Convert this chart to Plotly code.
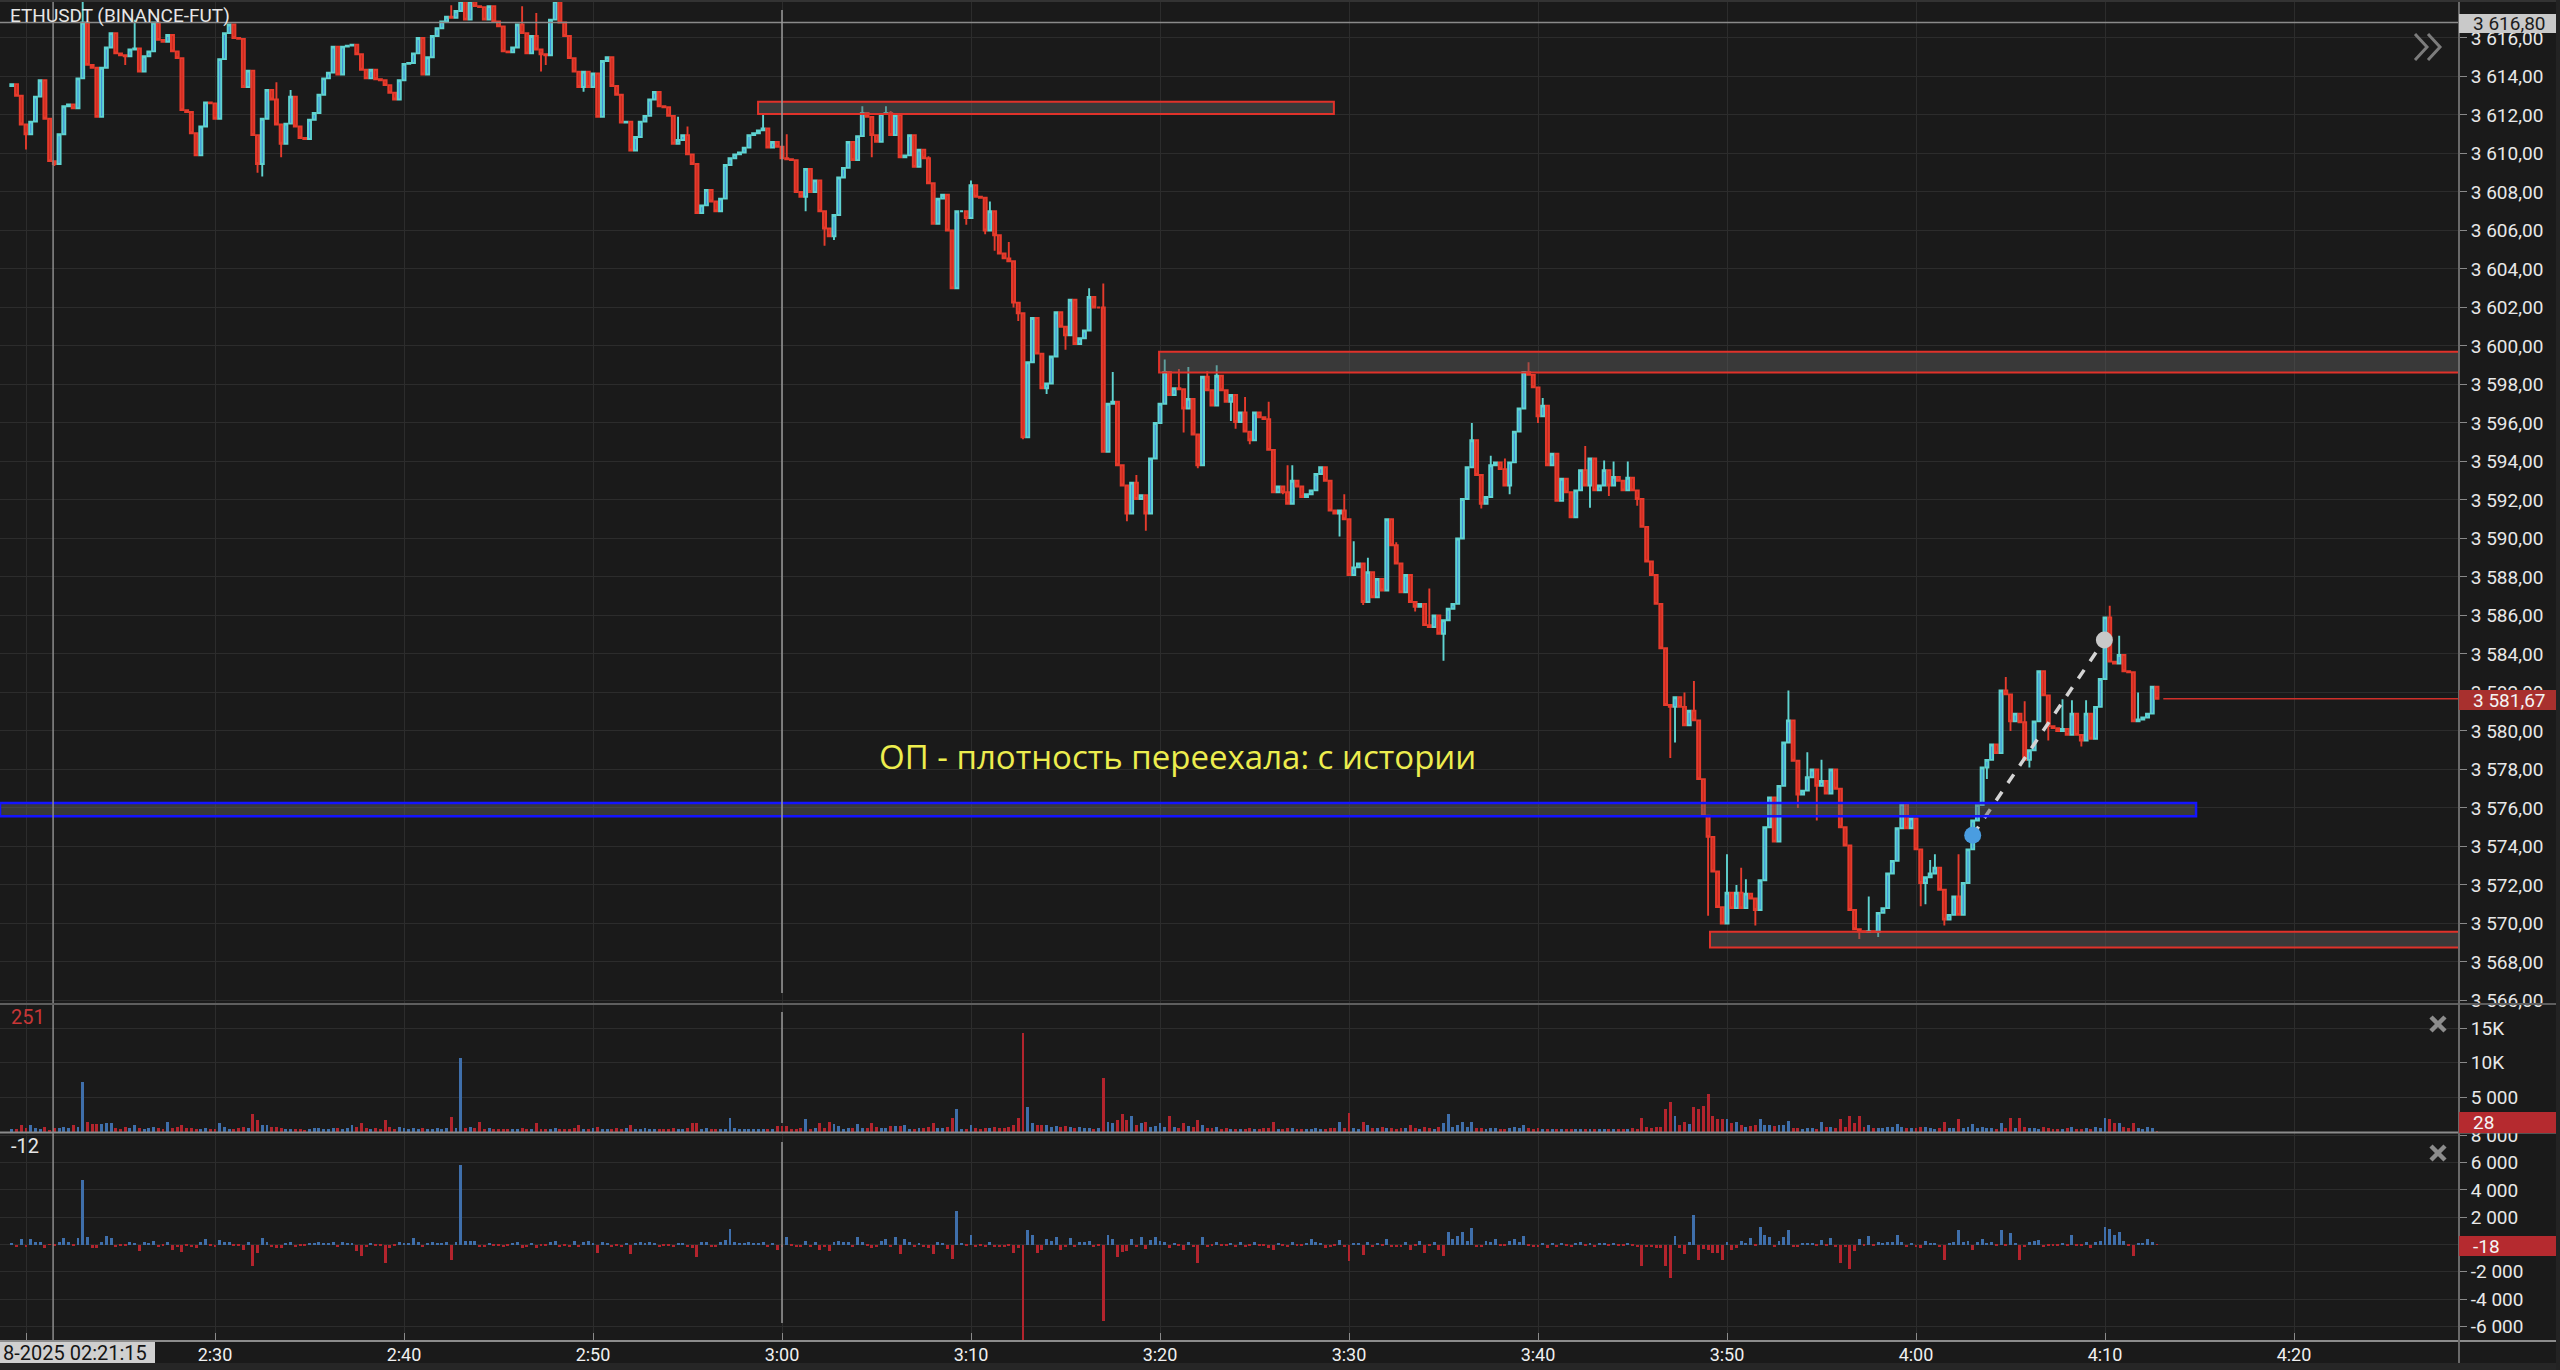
import plotly.graph_objects as go
import pandas as pd

# ------------------------------------------------------------------ data
start_time = "2025-08-05 02:19:15"
bar_seconds = 15
first_open = 3613.5

closes = [
    3613.6, 3613.0, 3611.5, 3611.0, 3611.65, 3612.95, 3613.8, 3611.8, 3609.6, 3609.45,
    3611.0, 3612.45, 3612.55, 3612.35, 3613.9, 3616.8, 3614.6, 3614.45, 3611.9, 3614.45,
    3615.5, 3616.25, 3615.2, 3615.1, 3615.05, 3615.4, 3615.45, 3614.25, 3615.05, 3615.3,
    3616.8, 3615.9, 3615.8, 3616.15, 3615.3, 3614.95, 3612.25, 3612.15, 3611.05, 3609.9,
    3611.4, 3612.65, 3612.6, 3611.8, 3614.9, 3616.25, 3616.7, 3616.0, 3615.95, 3613.45,
    3614.3, 3610.95, 3609.45, 3611.8, 3613.3, 3612.8, 3611.5, 3610.5, 3611.55, 3612.95,
    3611.4, 3610.8, 3610.75, 3611.75, 3612.1, 3613.05, 3613.9, 3614.2, 3615.55, 3614.1,
    3615.55, 3615.6, 3615.65, 3615.15, 3614.35, 3613.9, 3614.35, 3613.85, 3613.8, 3613.55,
    3613.15, 3612.8, 3613.8, 3614.65, 3614.7, 3615.2, 3616.0, 3614.1, 3615.0, 3616.1,
    3616.5, 3616.85, 3617.1, 3617.05, 3617.4, 3617.9, 3616.95, 3617.9, 3617.65, 3617.6,
    3616.95, 3617.65, 3616.85, 3616.6, 3615.3, 3615.25, 3615.5, 3616.7, 3616.25, 3615.2,
    3616.1, 3615.4, 3615.15, 3615.1, 3616.95, 3617.9, 3616.8, 3616.1, 3614.95, 3614.25,
    3613.45, 3614.25, 3613.45, 3614.15, 3611.9, 3614.8, 3615.0, 3613.5, 3613.05, 3611.6,
    3611.65, 3610.15, 3610.85, 3611.65, 3611.95, 3612.8, 3613.2, 3612.45, 3612.4, 3611.95,
    3610.5, 3610.7, 3610.95, 3609.95, 3609.45, 3606.9, 3607.3, 3608.1, 3607.5, 3607.0,
    3607.65, 3609.4, 3609.75, 3609.95, 3610.05, 3610.3, 3610.95, 3611.05, 3611.2, 3611.3,
    3610.3, 3610.6, 3610.35, 3609.75, 3609.7, 3609.65, 3608.0, 3607.75, 3609.2, 3608.0,
    3608.6, 3607.0, 3606.1, 3605.7, 3606.8, 3608.75, 3609.25, 3610.6, 3609.65, 3610.9,
    3612.1, 3611.9, 3610.95, 3610.6, 3612.05, 3612.1, 3610.95, 3612.0, 3609.8, 3609.9,
    3610.95, 3609.3, 3610.2, 3609.75, 3608.45, 3606.35, 3607.65, 3607.85, 3606.0, 3603.0,
    3607.0, 3607.0, 3606.65, 3608.35, 3607.75, 3607.7, 3606.0, 3607.0, 3605.75, 3604.8,
    3604.55, 3604.4, 3602.25, 3601.7, 3595.25, 3599.15, 3601.45, 3599.6, 3597.8, 3598.05,
    3599.45, 3601.75, 3601.0, 3600.55, 3602.4, 3600.1, 3600.4, 3600.8, 3602.55, 3602.0,
    3602.0, 3594.5, 3597.0, 3597.1, 3593.8, 3592.75, 3591.3, 3592.9, 3592.05, 3592.25,
    3591.3, 3594.15, 3596.0, 3597.0, 3598.65, 3597.45, 3597.8, 3597.75, 3596.75, 3597.25,
    3595.4, 3593.8, 3598.4, 3597.7, 3596.9, 3598.45, 3597.7, 3597.1, 3597.45, 3596.05,
    3596.55, 3595.55, 3595.1, 3596.55, 3596.3, 3596.2, 3594.6, 3592.4, 3592.7, 3592.4,
    3591.8, 3593.0, 3592.7, 3592.15, 3592.3, 3592.5, 3593.35, 3593.7, 3593.0, 3591.45,
    3591.3, 3591.45, 3591.0, 3588.1, 3588.5, 3588.7, 3586.7, 3588.25, 3586.95, 3587.9,
    3587.3, 3591.0, 3589.65, 3588.7, 3587.2, 3588.1, 3586.7, 3586.45, 3586.6, 3585.5,
    3585.4, 3586.0, 3585.05, 3585.75, 3586.35, 3586.6, 3590.0, 3592.05, 3593.7, 3595.1,
    3593.3, 3591.8, 3592.15, 3593.8, 3593.95, 3593.6, 3592.75, 3593.95, 3595.55, 3596.75,
    3598.65, 3598.5, 3597.85, 3596.35, 3596.9, 3593.8, 3594.4, 3591.95, 3593.1, 3592.4,
    3591.1, 3592.5, 3593.55, 3592.75, 3594.15, 3592.5, 3592.75, 3593.55, 3592.75, 3593.2,
    3593.0, 3592.5, 3593.15, 3592.5, 3592.05, 3590.6, 3588.8, 3588.1, 3586.6, 3584.3,
    3581.35, 3581.25, 3581.75, 3581.25, 3580.3, 3581.05, 3580.55, 3577.5, 3575.6, 3574.5,
    3572.7, 3570.85, 3570.0, 3571.6, 3570.8, 3571.6, 3570.8, 3571.55, 3571.3, 3570.7,
    3572.25, 3575.0, 3576.55, 3574.25, 3577.15, 3579.4, 3580.55, 3578.45, 3576.7, 3576.9,
    3577.6, 3578.0, 3577.15, 3577.4, 3576.75, 3578.0, 3577.0, 3575.0, 3574.05, 3570.7,
    3569.7, 3569.6, 3569.55, 3569.6, 3569.55, 3570.55, 3570.8, 3572.6, 3573.25, 3574.95,
    3576.2, 3574.95, 3575.45, 3573.85, 3572.1, 3572.4, 3572.6, 3572.9, 3571.75, 3570.2,
    3570.45, 3571.4, 3570.45, 3572.1, 3573.85, 3575.35, 3576.15, 3578.1, 3578.5, 3579.3,
    3578.85, 3582.1, 3581.9, 3580.5, 3580.9, 3580.45, 3578.5, 3579.0, 3580.5, 3583.1,
    3581.85, 3580.25, 3580.15, 3580.0, 3580.1, 3579.8, 3580.9, 3579.8, 3579.5, 3580.9,
    3579.6, 3581.25, 3582.7, 3585.9, 3583.6, 3583.5, 3583.95, 3583.1, 3583.05, 3580.5,
    3580.6, 3580.7, 3580.9, 3582.3, 3581.67,
]

wick_high = {
    15: 3618.3, 26: 3616.95, 56: 3613.7, 59: 3613.3, 93: 3617.7, 108: 3617.65, 111: 3617.3,
    141: 3611.9, 143: 3611.4, 159: 3612.1, 164: 3611.0, 180: 3612.45, 185: 3612.45,
    186: 3612.2, 194: 3609.85, 203: 3608.6, 205: 3607.8, 207: 3607.5, 209: 3605.7,
    211: 3605.4, 228: 3603.0, 231: 3603.25, 233: 3598.65, 238: 3593.3, 244: 3599.3,
    247: 3598.8, 249: 3598.9, 253: 3598.7, 255: 3599.0, 256: 3598.4, 261: 3597.35,
    266: 3597.1, 270: 3593.8, 271: 3593.8, 278: 3593.7, 282: 3592.3, 284: 3589.85,
    287: 3589.0, 292: 3590.95, 293: 3589.8, 294: 3588.45, 300: 3587.4, 309: 3596.0,
    313: 3594.3, 316: 3594.15, 321: 3599.15, 324: 3597.3, 333: 3594.8, 337: 3594.05,
    339: 3594.0, 342: 3594.0, 354: 3582.0, 356: 3582.6, 363: 3573.6, 365: 3572.0,
    366: 3572.9, 367: 3572.3, 376: 3582.1, 380: 3578.9, 383: 3578.5, 393: 3571.4,
    406: 3573.3, 407: 3573.6, 412: 3573.6, 422: 3582.8, 426: 3581.55, 434: 3581.65,
    436: 3581.6, 439: 3581.6, 444: 3586.5, 446: 3584.95, 450: 3582.0,
}
wick_low = {
    3: 3610.2, 9: 3609.35, 24: 3614.6, 52: 3609.0, 53: 3608.8, 57: 3609.8, 112: 3614.25,
    113: 3614.6, 121: 3613.2, 168: 3607.0, 172: 3605.2, 174: 3605.5, 182: 3609.8,
    196: 3606.9, 202: 3606.3, 206: 3605.8, 208: 3604.95, 212: 3602.0, 213: 3601.3,
    214: 3595.15, 219: 3597.5, 223: 3599.8, 236: 3590.9, 240: 3590.4, 248: 3595.5,
    251: 3593.65, 258: 3596.1, 259: 3595.7, 262: 3594.9, 269: 3592.3, 281: 3590.1,
    286: 3586.55, 297: 3586.2, 303: 3583.65, 311: 3591.55, 317: 3592.3, 323: 3596.0,
    334: 3591.6, 338: 3592.2, 344: 3591.7, 351: 3578.6, 352: 3579.4, 359: 3570.4,
    369: 3569.9, 378: 3576.0, 382: 3575.35, 391: 3569.2, 395: 3569.3, 404: 3570.9,
    405: 3571.0, 409: 3569.9, 418: 3577.5, 423: 3580.0, 427: 3578.1, 431: 3579.5,
    438: 3579.2,
}

volume = [
    400, 350, 970, 450, 970, 500, 400, 600, 251, 450,
    500, 700, 450, 970, 600, 7250, 1450, 1060, 1060, 1060,
    1200, 1200, 500, 400, 600, 450, 970, 500, 400, 450,
    600, 450, 400, 1450, 500, 600, 1000, 450, 500, 400,
    350, 450, 400, 300, 1200, 600, 400, 350, 500, 600,
    500, 2500, 1700, 970, 970, 600, 700, 500, 350, 300,
    350, 300, 250, 300, 450, 450, 400, 350, 450, 500,
    400, 450, 970, 600, 1200, 500, 300, 450, 400, 1700,
    600, 300, 700, 450, 350, 500, 400, 450, 300, 400,
    450, 400, 500, 2175, 450, 10700, 500, 700, 450, 1450,
    300, 450, 400, 300, 350, 300, 350, 400, 450, 300,
    350, 1200, 400, 300, 350, 450, 400, 300, 350, 450,
    970, 400, 350, 450, 600, 400, 350, 300, 450, 400,
    500, 970, 350, 300, 450, 400, 350, 300, 400, 350,
    450, 400, 350, 500, 1200, 1200, 400, 450, 350, 300,
    350, 400, 2030, 500, 350, 300, 350, 300, 350, 400,
    350, 300, 770, 770, 770, 400, 350, 450, 1790, 400,
    500, 1200, 450, 1450, 1060, 870, 400, 500, 450, 1060,
    500, 450, 1200, 600, 450, 500, 770, 770, 770, 970,
    400, 350, 450, 500, 600, 1200, 450, 500, 600, 2030,
    3290, 400, 350, 970, 450, 400, 500, 450, 600, 500,
    500, 600, 970, 1930, 14300, 3530, 1200, 970, 970, 970,
    600, 770, 700, 800, 600, 500, 600, 450, 500, 400,
    450, 7730, 1450, 1200, 1740, 2510, 1740, 2220, 900, 1200,
    1450, 700, 800, 1200, 600, 2220, 700, 500, 1200, 800,
    600, 1740, 970, 500, 450, 600, 400, 450, 350, 400,
    350, 400, 450, 350, 300, 450, 500, 1450, 400, 350,
    450, 500, 400, 350, 300, 400, 450, 350, 400, 500,
    450, 1450, 500, 2750, 450, 400, 1450, 970, 500, 450,
    600, 500, 450, 400, 500, 450, 970, 500, 400, 600,
    450, 400, 720, 1200, 2510, 600, 900, 1450, 600, 1450,
    500, 450, 400, 500, 450, 400, 350, 450, 720, 500,
    970, 450, 400, 450, 350, 300, 400, 350, 300, 400,
    350, 300, 400, 350, 300, 350, 400, 300, 350, 400,
    300, 350, 400, 450, 400, 2030, 600, 500, 700, 600,
    3290, 4250, 2270, 900, 1450, 1060, 3530, 3290, 3770, 5460,
    2270, 1790, 1790, 1790, 1200, 1450, 970, 720, 870, 970,
    1790, 900, 900, 870, 900, 970, 1550, 500, 450, 400,
    450, 500, 400, 1450, 600, 720, 500, 1790, 600, 2270,
    1200, 2270, 600, 970, 500, 450, 500, 600, 700, 1060,
    600, 500, 450, 500, 720, 720, 450, 400, 500, 1450,
    500, 450, 1790, 450, 600, 1060, 500, 720, 450, 500,
    400, 1200, 500, 2030, 450, 2030, 600, 500, 450, 400,
    720, 500, 400, 350, 400, 450, 720, 400, 350, 500,
    400, 600, 500, 2030, 1790, 1300, 1300, 700, 500, 1200,
    450, 400, 720, 500, 28,
]

delta = [
    120, -150, 370, -200, 370, 200, 150, -290, -12, -100,
    200, 490, 150, -100, 490, 4700, 540, -240, -240, 200,
    610, 490, -150, -100, -120, 150, 100, -490, 150, 120,
    250, -150, -100, 150, -370, -150, -540, -100, -200, -250,
    200, 440, -100, -150, 300, 200, 150, -120, -100, -370,
    150, -1590, -610, 490, 200, -150, -290, -290, 120, 150,
    -150, -120, -80, 120, 100, 150, 120, 100, 200, -150,
    150, 100, 120, -490, -850, -150, 100, -120, -80, -1340,
    -290, -100, 150, 120, 80, 490, 150, -200, 120, 150,
    120, 100, 150, -1100, 150, 5860, 240, 290, 240, -200,
    -150, 120, -120, -100, -200, -80, 100, 150, -290, -150,
    120, -290, -100, -80, 200, 250, -150, -120, -150, 290,
    -200, 150, 290, 120, -610, 200, 100, -150, -120, -200,
    80, -730, 120, 150, 100, 150, 120, -150, -80, -100,
    -200, 100, 120, -150, -240, -930, 150, 200, -150, -200,
    150, 300, 1150, 150, 100, 120, 150, 100, 120, 150,
    -150, 120, -370, -150, 540, -100, -200, -150, 290, -150,
    150, -370, -200, -440, 200, 250, 150, 200, -150, 540,
    200, -100, -290, -150, 240, 440, -200, 540, -730, 370,
    150, -200, 120, -150, -250, -730, 200, 120, -300, -1050,
    2440, 80, -120, 680, -150, -80, -200, 150, -200, -150,
    -150, -100, -610, -240, -11000, 1050, 730, -610, -370, 440,
    240, 540, -370, -150, 490, -200, 150, 200, 240, -150,
    -100, -5620, 660, 370, -930, -540, -440, 440, -200, 540,
    -300, 300, 540, 250, 200, -240, 120, -100, -370, 150,
    -200, -1340, 540, -150, -120, 150, -100, -120, 100, -200,
    150, -150, -120, 200, -80, -60, -250, -370, 120, -100,
    -150, 200, -100, -120, 80, 370, 150, 120, -290, -200,
    -100, 300, -150, -1220, 120, 100, -800, 200, -150, 120,
    -120, 370, -200, -150, -200, 150, -370, -100, 290, -610,
    -100, 150, -370, -850, 900, 370, 610, 930, 240, 1220,
    -200, -150, 240, 150, 370, -100, -120, 240, 370, 150,
    610, -100, -150, -200, 120, -250, 100, -200, 120, -100,
    -150, 120, 150, -100, 120, -150, 80, 100, -120, 80,
    -80, -120, 100, -100, -150, -1590, -200, -150, -290, -250,
    -1590, -2440, 600, -290, -730, 200, 2150, -1100, -300, -370,
    -610, -610, -1100, 200, -370, -240, 240, 120, 490, -100,
    1270, 730, 540, -150, 240, 540, 1050, -200, -150, 100,
    120, 100, -100, 300, -100, 490, -150, -1340, -200, -1830,
    -440, 440, -100, 610, -80, 150, 120, 200, 150, 660,
    200, -150, 100, -200, -240, 240, 100, 120, -150, -1100,
    100, 150, 1050, 200, 250, -370, 150, 440, 120, 150,
    -120, 1050, -100, 850, 120, -1100, -200, 150, 240, 300,
    -150, -120, -80, -100, 80, -100, 660, -120, -100, 150,
    -240, 200, 250, 1300, 1150, 660, 930, 290, -100, -850,
    120, 100, 420, 200, -18,
]

price_tick_values = list(range(3566, 3618, 2))
volume_tick_values = [5000, 10000, 15000]
volume_tick_text = ["5 000", "10K", "15K"]
delta_tick_values = [-6000, -4000, -2000, 0, 2000, 4000, 6000, 8000]
delta_tick_text = ["-6 000", "-4 000", "-2 000", "", "2 000", "4 000", "6 000", "8 000"]

symbol_title = "ETHUSDT (BINANCE-FUT)"
last_price = 3581.67
crosshair_price = 3616.80
crosshair_time = "2025-08-05 02:21:26"
crosshair_label = "8-2025 02:21:15"
hover_volume_label = "251"
hover_delta_label = "-12"
last_volume_label = "28"
last_delta_label = "-18"
session_line_time = "2025-08-05 03:00:00"

# drawn levels: (start, end or None = right edge, low, high)
red_zones = [
    ("2025-08-05 02:58:44", "2025-08-05 03:29:12", 3612.05, 3612.68),
    ("2025-08-05 03:19:57", None, 3598.62, 3599.70),
    ("2025-08-05 03:49:06", None, 3568.75, 3569.57),
]
blue_zone = (None, "2025-08-05 04:14:49", 3575.57, 3576.26)
trend_points_time = ["2025-08-05 04:03:00", "2025-08-05 04:09:58"]
trend_points_price = [3574.58, 3584.73]
note_text = "ОП - плотность переехала: с истории"
note_time = "2025-08-05 03:20:56"
note_price = 3578.7
last_line_start = "2025-08-05 04:13:05"

# ------------------------------------------------------------------ derived
n = min(len(closes), len(volume), len(delta))
closes = closes[:n]
volume = volume[:n]
delta = delta[:n]
times = pd.date_range(start_time, periods=n, freq=f"{bar_seconds}s")
opens = [first_open] + closes[:-1]
highs = [max(o, c) for o, c in zip(opens, closes)]
lows = [min(o, c) for o, c in zip(opens, closes)]
for k, v in wick_high.items():
    if k < n:
        highs[k] = max(highs[k], v)
for k, v in wick_low.items():
    if k < n:
        lows[k] = min(lows[k], v)

# ------------------------------------------------------------------ geometry (pixels)
W, H = 2560, 1370
PW, PH = 2459, 1342          # plot area (right axis strip 101px, time strip 28px)
PX_PER_MIN = 18.9
X_AT_3 = 782
t3 = pd.Timestamp("2025-08-05 03:00:00")
x_left = t3 - pd.Timedelta(minutes=X_AT_3 / PX_PER_MIN)
x_right = t3 + pd.Timedelta(minutes=(PW - X_AT_3) / PX_PER_MIN)


def pxp(x):
    return x / PW


def pyp(y):
    return (PH - y) / PH


def fmt_price(v):
    return f"{v:,.2f}".replace(",", " ").replace(".", ",")


BG = "#1a1a1a"
GRID = "#2c2c2c"
UP_LINE, UP_FILL = "#5fd3d0", "#3f8fdc"
DN_LINE, DN_FILL = "#e53b2c", "#c8291f"
VOL_UP, VOL_DN = "#3f6fab", "#b3242d"
AXIS_FONT = 19

fig = go.Figure()

fig.add_trace(go.Candlestick(
    x=times, open=opens, high=highs, low=lows, close=closes,
    xaxis="x", yaxis="y", whiskerwidth=0,
    increasing=dict(line=dict(color=UP_LINE, width=1.9), fillcolor=UP_FILL),
    decreasing=dict(line=dict(color=DN_LINE, width=1.9), fillcolor=DN_FILL),
    hoverinfo="skip", showlegend=False,
))

vol_colors = [VOL_UP if c >= o else VOL_DN for o, c in zip(opens, closes)]
fig.add_trace(go.Bar(
    x=times, y=volume, xaxis="x2", yaxis="y2",
    width=bar_seconds * 1000 * 0.62,
    marker=dict(color=vol_colors, line=dict(width=0)), showlegend=False, hoverinfo="skip",
))
delta_colors = [VOL_UP if d >= 0 else VOL_DN for d in delta]
fig.add_trace(go.Bar(
    x=times, y=delta, xaxis="x3", yaxis="y3",
    width=bar_seconds * 1000 * 0.62,
    marker=dict(color=delta_colors, line=dict(width=0)), showlegend=False, hoverinfo="skip",
))

# trend line + anchor dots
fig.add_trace(go.Scatter(
    x=trend_points_time, y=trend_points_price, mode="lines", xaxis="x", yaxis="y",
    line=dict(color="#d4d4d4", width=3.5, dash="dash"), showlegend=False, hoverinfo="skip",
))
fig.add_trace(go.Scatter(
    x=trend_points_time, y=trend_points_price, mode="markers", xaxis="x", yaxis="y",
    marker=dict(size=17, color=["#4a9de0", "#c8c8c8"], line=dict(width=0)),
    showlegend=False, hoverinfo="skip", cliponaxis=False,
))

shapes = []

# drawn zones
for (a, b, lo, hi) in red_zones:
    shapes.append(dict(type="rect", xref="x", yref="y", x0=a, x1=b if b else x_right,
                       y0=lo, y1=hi, layer="above",
                       fillcolor="rgba(95,95,95,0.45)", line=dict(color="#e0322a", width=2)))
shapes.append(dict(type="rect", xref="x", yref="y",
                   x0=blue_zone[0] if blue_zone[0] else x_left, x1=blue_zone[1],
                   y0=blue_zone[2], y1=blue_zone[3], layer="above",
                   fillcolor="rgba(95,95,95,0.45)", line=dict(color="#1414ff", width=2.5)))

# last price line
shapes.append(dict(type="line", xref="x", yref="y", x0=last_line_start, x1=x_right,
                   y0=last_price, y1=last_price, layer="above",
                   line=dict(color="#d0302a", width=1.5)))

# crosshair horizontal
shapes.append(dict(type="line", xref="x domain", yref="y", x0=0, x1=1,
                   y0=crosshair_price, y1=crosshair_price, layer="above",
                   line=dict(color="#8a8a8a", width=1.5)))

# crosshair vertical + session line in each pane
for xa, ya, s0, s1 in [("x", "y", 0.01, 0.99), ("x2", "y2", 0.071, 0.945), ("x3", "y3", 0.091, 0.957)]:
    shapes.append(dict(type="line", xref=xa, yref=ya + " domain", x0=crosshair_time, x1=crosshair_time,
                       y0=0, y1=1, layer="above", line=dict(color="#8c8c8c", width=1.5)))
    shapes.append(dict(type="line", xref=xa, yref=ya + " domain", x0=session_line_time, x1=session_line_time,
                       y0=s0, y1=s1, layer="above", line=dict(color="#9a9a9a", width=1.5)))

# pane separators and axis border
shapes += [
    dict(type="line", xref="paper", yref="paper", x0=0, x1=pxp(2556), y0=pyp(1004), y1=pyp(1004),
         line=dict(color="#5e5e5e", width=2), layer="above"),
    dict(type="line", xref="paper", yref="paper", x0=0, x1=pxp(2556), y0=pyp(1132.5), y1=pyp(1132.5),
         line=dict(color="#8c8c8c", width=2), layer="above"),
    dict(type="line", xref="paper", yref="paper", x0=0, x1=pxp(2556), y0=pyp(1341), y1=pyp(1341),
         line=dict(color="#8c8c8c", width=2), layer="above"),
    dict(type="line", xref="paper", yref="paper", x0=1, x1=1, y0=1, y1=pyp(1363),
         line=dict(color="#6a6a6a", width=2), layer="above"),
    dict(type="line", xref="paper", yref="paper", x0=0, x1=pxp(2560), y0=pyp(1), y1=pyp(1),
         line=dict(color="#333333", width=2), layer="above"),
    dict(type="rect", xref="paper", yref="paper", x0=0, x1=pxp(2560), y0=pyp(1370), y1=pyp(1363),
         fillcolor="#262626", line=dict(width=0), layer="above"),
    dict(type="rect", xref="paper", yref="paper", x0=pxp(2556), x1=pxp(2560), y0=pyp(1370), y1=1,
         fillcolor="#232323", line=dict(width=0), layer="above"),
]

# value tags on the right axis
tag_rects = [(14, 33, "#c9c9c9"), (690, 710, "#a8302e"), (1112, 1133, "#b52a2f"), (1236, 1256, "#b52a2f")]
for y0, y1, col in tag_rects:
    shapes.append(dict(type="rect", xref="paper", yref="paper", x0=pxp(2459), x1=pxp(2556),
                       y0=pyp(y1), y1=pyp(y0), fillcolor=col, line=dict(width=0), layer="above"))
# time crosshair tag
shapes.append(dict(type="rect", xref="paper", yref="paper", x0=0, x1=pxp(155),
                   y0=pyp(1363), y1=pyp(1342), fillcolor="#d0d0d0", line=dict(width=0), layer="above"))


def path(points):
    return "M " + " L ".join(f"{pxp(x):.6f},{pyp(y):.6f}" for x, y in points)


# "»" scroll icon
for dx in (0, 13):
    shapes.append(dict(type="path", xref="paper", yref="paper",
                       path=path([(2415 + dx, 34), (2427 + dx, 47), (2415 + dx, 60)]),
                       line=dict(color="#7c7c7c", width=3), layer="above"))
# close icons
for cy in (1024, 1153):
    shapes.append(dict(type="line", xref="paper", yref="paper", x0=pxp(2431), x1=pxp(2445),
                       y0=pyp(cy - 7), y1=pyp(cy + 7), line=dict(color="#8c8c8c", width=4.5), layer="above"))
    shapes.append(dict(type="line", xref="paper", yref="paper", x0=pxp(2431), x1=pxp(2445),
                       y0=pyp(cy + 7), y1=pyp(cy - 7), line=dict(color="#8c8c8c", width=4.5), layer="above"))

annotations = [
    dict(text=symbol_title, xref="paper", yref="paper", x=pxp(8), y=pyp(16), xanchor="left",
         yanchor="middle", showarrow=False, font=dict(size=19, color="#e6e6e6")),
    dict(text=hover_volume_label, xref="paper", yref="paper", x=pxp(9), y=pyp(1017), xanchor="left",
         yanchor="middle", showarrow=False, font=dict(size=20, color="#c83636")),
    dict(text=hover_delta_label, xref="paper", yref="paper", x=pxp(9), y=pyp(1146), xanchor="left",
         yanchor="middle", showarrow=False, font=dict(size=20, color="#e6e6e6")),
    dict(text=note_text, xref="x", yref="y", x=note_time, y=note_price, xanchor="center",
         yanchor="middle", showarrow=False,
         font=dict(size=33, color="#eded4e", family="Open Sans, Noto Sans, sans-serif")),
    dict(text=fmt_price(crosshair_price), xref="paper", yref="paper", x=pxp(2471), y=pyp(23.5),
         xanchor="left", yanchor="middle", showarrow=False, font=dict(size=AXIS_FONT, color="#1c1c1c")),
    dict(text=fmt_price(last_price), xref="paper", yref="paper", x=pxp(2471), y=pyp(700),
         xanchor="left", yanchor="middle", showarrow=False, font=dict(size=AXIS_FONT, color="#f4f4f4")),
    dict(text=last_volume_label, xref="paper", yref="paper", x=pxp(2471), y=pyp(1122.5),
         xanchor="left", yanchor="middle", showarrow=False, font=dict(size=AXIS_FONT, color="#f4f4f4")),
    dict(text=last_delta_label, xref="paper", yref="paper", x=pxp(2471), y=pyp(1246),
         xanchor="left", yanchor="middle", showarrow=False, font=dict(size=AXIS_FONT, color="#f4f4f4")),
    dict(text=crosshair_label, xref="paper", yref="paper", x=pxp(1), y=pyp(1352.5),
         xanchor="left", yanchor="middle", showarrow=False, font=dict(size=20, color="#151515")),
]

axis_common = dict(gridcolor=GRID, gridwidth=1, zeroline=False, showline=False)
x_common = dict(axis_common, type="date", range=[x_left, x_right], dtick=600000,
                tick0="2025-08-05 02:00:00", showgrid=True)
y_common = dict(axis_common, side="right", ticks="outside", ticklen=7, tickwidth=1.2,
                tickcolor="#8a8a8a", tickfont=dict(size=AXIS_FONT, color="#e8e8e8"), showgrid=True)

fig.update_layout(
    width=W, height=H,
    margin=dict(l=0, r=W - PW, t=0, b=H - PH, autoexpand=False),
    paper_bgcolor=BG, plot_bgcolor=BG,
    font=dict(family="Roboto, Noto Sans, sans-serif", color="#e6e6e6", size=16),
    showlegend=False, hovermode=False, boxgap=0.08, bargap=0,
    xaxis=dict(x_common, anchor="y", showticklabels=False, ticks="", rangeslider=dict(visible=False)),
    xaxis2=dict(x_common, anchor="y2", matches="x", showticklabels=False, ticks=""),
    xaxis3=dict(x_common, anchor="y3", matches="x", showticklabels=True, tickformat="%-H:%M",
                ticks="inside", ticklen=9, tickwidth=1.2, tickcolor="#8a8a8a",
                tickfont=dict(size=18, color="#f0f0f0")),
    yaxis=dict(y_common, anchor="x", domain=[pyp(1003), 1], range=[3565.87, 3617.97],
               tickvals=price_tick_values, ticktext=[fmt_price(v) for v in price_tick_values]),
    yaxis2=dict(y_common, anchor="x2", domain=[pyp(1132), pyp(1005)], range=[-72, 18342],
                tickvals=volume_tick_values, ticktext=volume_tick_text),
    yaxis3=dict(y_common, anchor="x3", domain=[0, pyp(1133)], range=[-7147, 8173],
                tickvals=delta_tick_values, ticktext=delta_tick_text),
    shapes=shapes,
    annotations=annotations,
)

fig.write_html("out.html")
